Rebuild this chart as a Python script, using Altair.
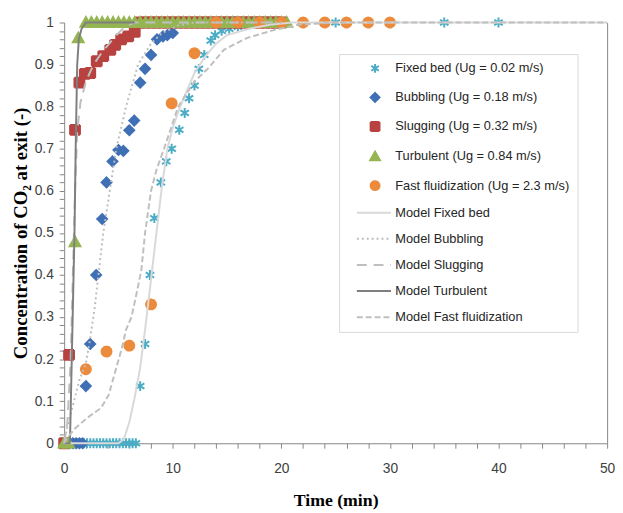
import altair as alt
import pandas as pd

# ---------------- data ----------------
SERIES = [
    "Fixed bed (Ug = 0.02 m/s)",
    "Bubbling (Ug = 0.18 m/s)",
    "Slugging (Ug = 0.32 m/s)",
    "Turbulent (Ug = 0.84 m/s)",
    "Fast fluidization (Ug = 2.3 m/s)",
    "Model Fixed bed",
    "Model Bubbling",
    "Model Slugging",
    "Model Turbulent",
    "Model Fast fluidization",
]

fixed_t = [0.6, 0.9, 1.2, 1.5, 1.8, 2.1, 2.4, 2.7, 3.0, 3.3, 3.6, 3.9, 4.2, 4.5, 4.8,
           5.1, 5.4, 5.7, 6.0, 6.3, 6.6, 7.0, 7.45, 7.9, 8.3, 8.9, 9.4, 9.9, 10.6, 11.1,
           11.5, 12.0, 12.4, 12.9, 13.5, 13.9, 14.5, 15.2, 16.0, 17.0, 18.0, 20.0, 25.0,
           30.0, 35.0, 40.0]
fixed_c = [0, 0, 0, 0, 0, 0, 0, 0, 0, 0, 0, 0, 0, 0, 0,
           0, 0, 0, 0, 0, 0, 0.136, 0.236, 0.40, 0.535, 0.62, 0.67, 0.70, 0.745, 0.785,
           0.82, 0.85, 0.89, 0.923, 0.957, 0.97, 0.98, 0.985, 0.99, 0.995, 1, 1, 1,
           1, 1, 1]

bubbling_t = [0.5, 0.8, 1.1, 1.4, 1.7, 2.0, 2.4, 2.95, 3.5, 3.9, 4.45, 5.0, 5.45, 6.0,
              6.45, 7.0, 7.45, 8.0, 8.55, 9.1, 9.5, 10.0]
bubbling_c = [0, 0, 0, 0, 0, 0.136, 0.236, 0.40, 0.533, 0.62, 0.67, 0.697, 0.695, 0.744,
              0.767, 0.857, 0.89, 0.923, 0.96, 0.967, 0.97, 0.975]

slugging_t = [0.0, 0.45, 1.0, 1.4, 1.9, 2.4, 3.0, 3.6, 4.25, 4.7, 5.25, 5.9, 6.5,
              7.0, 7.5, 8.0, 8.5, 9.0, 9.5, 10.0, 10.5, 11.0, 11.5, 12.0, 12.5, 13.0,
              13.5, 14.0, 14.5, 15.0, 15.5, 16.0, 16.5, 17.0, 17.5, 18.0, 18.5, 19.0,
              19.5, 20.0]
slugging_c = [0, 0.21, 0.745, 0.857, 0.878, 0.88, 0.908, 0.92, 0.935, 0.947, 0.96, 0.967, 0.978,
              1, 1, 1, 1, 1, 1, 1, 1, 1, 1, 1, 1, 1,
              1, 1, 1, 1, 1, 1, 1, 1, 1, 1, 1, 1,
              1, 1]

turbulent_t = [0.0, 0.4, 1.0, 1.3, 2.0, 2.5, 3.0, 3.5, 4.0, 4.5, 5.0, 5.5, 6.0, 6.5,
               7.0, 7.5, 8.0, 8.5, 9.0, 9.5, 10.0, 10.5, 11.0, 11.5, 12.0, 12.5, 13.0,
               13.5, 14.0, 14.5, 15.0, 15.5, 16.0, 16.5, 17.0, 17.5, 18.0, 18.5, 19.0,
               19.5, 20.0, 20.5]
turbulent_c = [0, 0, 0.478, 0.963, 1, 1, 1, 1, 1, 1, 1, 1, 1, 1,
               1, 1, 1, 1, 1, 1, 1, 1, 1, 1, 1, 1, 1,
               1, 1, 1, 1, 1, 1, 1, 1, 1, 1, 1, 1,
               1, 1, 1]

fast_t = [2.0, 3.9, 6.0, 8.0, 9.9, 12.0, 14.0, 16.0, 18.0, 20.0, 22.0, 24.0, 26.0, 28.0, 30.0]
fast_c = [0.176, 0.218, 0.232, 0.33, 0.808, 0.927, 1, 1, 1, 1, 1, 1, 1, 1, 1]

m_fixed_t = [0, 4, 5, 5.5, 6, 6.5, 7, 7.5, 8, 8.5, 9, 9.5, 10, 10.5, 11, 12, 13, 14,
             15, 17, 19, 21, 25, 50]
m_fixed_c = [0, 0, 0, 0.01, 0.05, 0.11, 0.18, 0.28, 0.39, 0.50, 0.61, 0.70, 0.75, 0.787,
             0.82, 0.88, 0.92, 0.95, 0.97, 0.985, 0.995, 1, 1, 1]

m_bubbling_t = [0, 0.3, 0.8, 1.4, 2.0, 2.4, 2.8, 3.2, 3.6, 4.2, 4.8, 5.7, 6.8, 8, 9,
                10.5, 12, 15, 20]
m_bubbling_c = [0, 0.04, 0.09, 0.15, 0.19, 0.25, 0.32, 0.41, 0.5, 0.6, 0.7, 0.8, 0.9,
                0.95, 0.975, 0.993, 1, 1, 1]

m_slugging_t = [0, 0.3, 0.6, 0.8, 1.0, 1.2, 1.5, 2.0, 2.7, 3.5, 4.7, 5.6, 6.5, 8, 20]
m_slugging_c = [0, 0.05, 0.2, 0.4, 0.6, 0.74, 0.81, 0.86, 0.90, 0.93, 0.967, 0.99, 1, 1, 1]

m_turbulent_t = [0, 0.5, 0.55, 0.9, 0.95, 1.06, 1.2, 1.35, 1.6, 2.0, 6.5]
m_turbulent_c = [0, 0, 0.02, 0.44, 0.5, 0.7, 0.9, 0.96, 0.985, 1, 1]

m_fast_t = [0, 0.3, 1, 2.1, 3.4, 4.1, 4.7, 5.3, 5.7, 6.2, 6.7, 7.1, 7.45, 8, 8.5, 9.2,
            10.5, 12, 13.3, 14.7, 16.8, 19.3, 21.6, 25, 50]
m_fast_c = [0, 0.014, 0.035, 0.06, 0.084, 0.115, 0.17, 0.225, 0.27, 0.30, 0.36, 0.41, 0.5,
            0.6, 0.65, 0.7, 0.8, 0.86, 0.892, 0.935, 0.963, 0.982, 0.995, 1, 1]

X_MAX = 50

# ---------------- styles ----------------
ASTERISK = "M0,-1L0,1M-0.85,-0.55L0.85,0.55M-0.85,0.55L0.85,-0.55"
TRIANGLE = "M0,-1.1L1.1,0.85L-1.1,0.85Z"
LEGEND_LINE = "M-4.1,0L3.6,0"
colors = ["#4bacc6", "#3f6fb5", "#b84240", "#94b552", "#ec8b3c",
          "#d9d9d9", "#bdbdbd", "#bfbfbf", "#7f7f7f", "#bfbfbf"]
fills = ["transparent", "#3f6fb5", "#b84240", "#94b552", "#ec8b3c",
         "transparent", "transparent", "transparent", "transparent", "transparent"]
shapes = [ASTERISK, "diamond", "square", TRIANGLE, "circle",
          LEGEND_LINE, LEGEND_LINE, LEGEND_LINE, LEGEND_LINE, LEGEND_LINE]
dashes = [[1, 0], [1, 0], [1, 0], [1, 0], [1, 0],
          [1, 0], [2, 3], [10, 7], [1, 0], [6, 3]]
widths = [2, 2, 2, 2, 2, 3, 2, 2.5, 2.5, 2.5]

def frame(ts, cs, name):
    return pd.DataFrame({"t": ts, "c": cs, "series": name})

pts = pd.concat([
    frame(fixed_t, fixed_c, SERIES[0]),
    frame(bubbling_t, bubbling_c, SERIES[1]),
    frame(slugging_t, slugging_c, SERIES[2]),
    frame(turbulent_t, turbulent_c, SERIES[3]),
    frame(fast_t, fast_c, SERIES[4]),
], ignore_index=True)
pts["order"] = range(len(pts))

lines = pd.concat([
    frame(m_fixed_t, m_fixed_c, SERIES[5]),
    frame(m_bubbling_t, m_bubbling_c, SERIES[6]),
    frame(m_slugging_t, m_slugging_c, SERIES[7]),
    frame(m_turbulent_t, m_turbulent_c, SERIES[8]),
    frame(m_fast_t, m_fast_c, SERIES[9]),
], ignore_index=True)

LABEL_FONT = "Liberation Sans, Arial, sans-serif"
TITLE_FONT = "Liberation Serif, Times New Roman, serif"
AXIS_COL = "#868686"

x_ticks = [i * 2 for i in range(26)]
y_ticks = [round(i * 0.02, 2) for i in range(51)]

x_enc = alt.X("t:Q", scale=alt.Scale(domain=[0, X_MAX], nice=False, zero=False),
              axis=alt.Axis(values=x_ticks, labelExpr="datum.value % 10 == 0 ? datum.label : ''",
                            title="Time (min)", grid=False, tickSize=5, labelPadding=14,
                            titlePadding=16, labelFlush=False, labelOverlap=False))
y_enc = alt.Y("c:Q", scale=alt.Scale(domain=[0, 1], nice=False),
              axis=alt.Axis(values=y_ticks,
                            labelExpr="round(datum.value*100) % 10 == 0 ? format(datum.value, '.1~f') : ''",
                            title="Concentration of CO\u2082 at exit (-)", grid=False, tickSize=5,
                            labelPadding=6, titlePadding=4, labelFlush=False, labelOverlap=False))

legend = alt.Legend(title=None, orient="none", legendX=279, legendY=32,
                    strokeColor="#d9d9d9", fillColor="white", padding=8,
                    symbolSize=81, symbolStrokeWidth=2, symbolOffset=22, labelOffset=14,
                    rowPadding=12.5, labelFont=LABEL_FONT, labelFontSize=13, labelColor="#262626",
                    labelLimit=300)

dom = alt.Scale(domain=SERIES, range=colors)
point_layer = alt.Chart(pts).mark_point(filled=True, size=100, strokeWidth=2, opacity=1).encode(
    x=x_enc, y=y_enc,
    fill=alt.Fill("series:N", scale=alt.Scale(domain=SERIES, range=fills), legend=legend),
    stroke=alt.Stroke("series:N", scale=dom, legend=legend),
    shape=alt.Shape("series:N", scale=alt.Scale(domain=SERIES, range=shapes), legend=legend),
    strokeDash=alt.StrokeDash("series:N", scale=alt.Scale(domain=SERIES, range=dashes), legend=legend),
    order=alt.Order("order:Q"),
)

line_layer = alt.Chart(lines).mark_line().encode(
    x=x_enc, y=y_enc,
    stroke=alt.Stroke("series:N", scale=dom, legend=None),
    strokeDash=alt.StrokeDash("series:N", scale=alt.Scale(domain=SERIES, range=dashes), legend=None),
    strokeWidth=alt.StrokeWidth("series:N", scale=alt.Scale(domain=SERIES, range=widths), legend=None),
)

main = alt.layer(point_layer, line_layer)

border = alt.Chart(pd.DataFrame({"c": [0, 1]})).mark_point(opacity=0).encode(
    y=alt.Y("c:Q", scale=alt.Scale(domain=[0, 1], nice=False),
            axis=alt.Axis(orient="right", labels=False, ticks=False, title=None, grid=False,
                          domainColor=AXIS_COL))
)

chart = alt.layer(main, border).resolve_scale(y="independent").properties(
    width=551, height=427,
    autosize=alt.AutoSizeParams(type="none"),
    padding={"left": 57, "top": 11, "right": 8, "bottom": 66},
).configure_view(strokeWidth=0).configure_axis(
    domainColor=AXIS_COL, tickColor=AXIS_COL, labelFont=LABEL_FONT, labelFontSize=14,
    labelColor="#404040", titleFont=TITLE_FONT, titleFontWeight="bold", titleColor="black",
).configure_axisX(titleFontSize=18).configure_axisY(titleFontSize=19)

chart.save("out.html", embed_options={"renderer": "svg", "actions": False})
